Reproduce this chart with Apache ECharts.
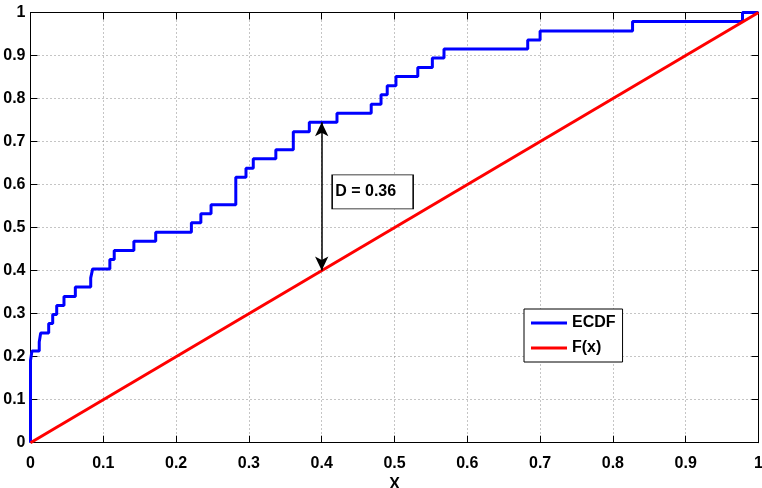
<!DOCTYPE html>
<html>
<head>
<meta charset="utf-8">
<script src="https://cdn.jsdelivr.net/npm/echarts@6/dist/echarts.min.js"></script>
<style>html,body{margin:0;padding:0;background:#fff}#c{width:762px;height:488px}</style>
</head>
<body>
<div id="c"></div>
<script>
// ECDF jump locations and the ECDF level reached at each jump
const ecdfX = [0, 0, 0.002, 0.012, 0.014, 0.025, 0.0305, 0.036, 0.046, 0.0616, 0.0827, 0.0854, 0.109, 0.115, 0.142, 0.172, 0.221, 0.234, 0.248, 0.282, 0.296, 0.306, 0.337, 0.361, 0.383, 0.421, 0.468, 0.4815, 0.490, 0.502, 0.532, 0.552, 0.568, 0.683, 0.700, 0.827, 0.978, 1.0];
const ecdfY = [0, 0.191, 0.213, 0.234, 0.255, 0.277, 0.298, 0.319, 0.340, 0.362, 0.383, 0.404, 0.426, 0.447, 0.468, 0.489, 0.511, 0.532, 0.553, 0.617, 0.638, 0.660, 0.681, 0.723, 0.745, 0.766, 0.787, 0.809, 0.830, 0.851, 0.872, 0.894, 0.915, 0.936, 0.957, 0.979, 1.0, 1.0];
// Theoretical CDF F(x) = x
const fX = [0, 1];
const fY = [0, 1];
// Annotation
const dX = 0.4, dTop = 0.745, dBottom = 0.4;
const dLabel = 'D = 0.36';
const dLabelPos = [0.470, 0.583];
// Ticks
const xTicks = ['0','0.1','0.2','0.3','0.4','0.5','0.6','0.7','0.8','0.9','1'];
const yTicks = ['0','0.1','0.2','0.3','0.4','0.5','0.6','0.7','0.8','0.9','1'];
const seriesNames = ['ECDF', 'F(x)'];
const xName = 'X';

const FONT = "'Liberation Sans', Arial, sans-serif";
const chart = echarts.init(document.getElementById('c'), null, {renderer: 'canvas'});

const gridLine = {show: true, lineStyle: {color: '#8a8a8a', type: [1, 3], width: 1}};
const axisLine = {show: true, onZero: false, lineStyle: {color: '#000', width: 1}};
const tick = {show: true, inside: true, length: 7, lineStyle: {color: '#000'}};
const lbl = {color: '#000', fontWeight: 'bold', fontSize: 16, fontFamily: FONT};

chart.setOption({
  animation: false,
  backgroundColor: '#fff',
  grid: {left: 30.5, right: 3.5, top: 12.5, bottom: 45.3, containLabel: false, outerBoundsMode: 'none'},
  legend: {
    data: seriesNames,
    orient: 'vertical',
    left: 524, top: 309,
    padding: [6, 7, 6, 7],
    itemGap: 9,
    itemWidth: 36, itemHeight: 3,
    icon: 'rect',
    backgroundColor: '#fff',
    borderColor: '#000', borderWidth: 1,
    textStyle: {color: '#000', fontWeight: 'bold', fontSize: 16, fontFamily: FONT}
  },
  xAxis: [
    {type: 'value', min: 0, max: 1, interval: 0.1, position: 'bottom',
     name: xName, nameLocation: 'middle', nameGap: 30,
     nameTextStyle: {color: '#000', fontWeight: 'bold', fontSize: 16, fontFamily: FONT},
     axisLine: axisLine, axisTick: tick, splitLine: gridLine,
     axisLabel: Object.assign({margin: 13, formatter: (v, i) => xTicks[i]}, lbl)},
    {type: 'value', min: 0, max: 1, interval: 0.1, position: 'top',
     axisLine: axisLine, axisTick: tick, splitLine: {show: false}, axisLabel: {show: false}}
  ],
  yAxis: [
    {type: 'value', min: 0, max: 1, interval: 0.1, position: 'left',
     axisLine: axisLine, axisTick: tick, splitLine: gridLine,
     axisLabel: Object.assign({margin: 5, formatter: (v, i) => yTicks[i]}, lbl)},
    {type: 'value', min: 0, max: 1, interval: 0.1, position: 'right',
     axisLine: axisLine, axisTick: tick, splitLine: {show: false}, axisLabel: {show: false}}
  ],
  series: [
    {name: seriesNames[0], type: 'line', step: 'end', showSymbol: false, symbol: 'none',
     data: ecdfX.map((x, i) => [x, ecdfY[i]]),
     lineStyle: {color: '#0000ff', width: 3}, itemStyle: {color: '#0000ff'}, z: 2},
    {name: seriesNames[1], type: 'line', showSymbol: false, symbol: 'none',
     data: fX.map((x, i) => [x, fY[i]]),
     lineStyle: {color: '#ff0000', width: 3}, itemStyle: {color: '#ff0000'}, z: 3,
     markLine: {
       silent: true, symbol: ['arrow', 'arrow'], symbolSize: [10, 14],
       label: {show: false},
       lineStyle: {color: '#000', width: 1.5, type: 'solid'},
       data: [[{coord: [dX, dTop]}, {coord: [dX, dBottom]}]]
     },
     markPoint: {
       silent: true,
       data: [{coord: dLabelPos, symbol: 'rect', symbolSize: [81, 34],
               itemStyle: {color: '#fff', borderColor: '#000', borderWidth: 1},
               label: {show: true, position: 'inside', offset: [-7, 0], formatter: dLabel,
                       color: '#000', fontWeight: 'bold', fontSize: 16, fontFamily: FONT}}]
     }}
  ]
});
</script>
</body>
</html>
